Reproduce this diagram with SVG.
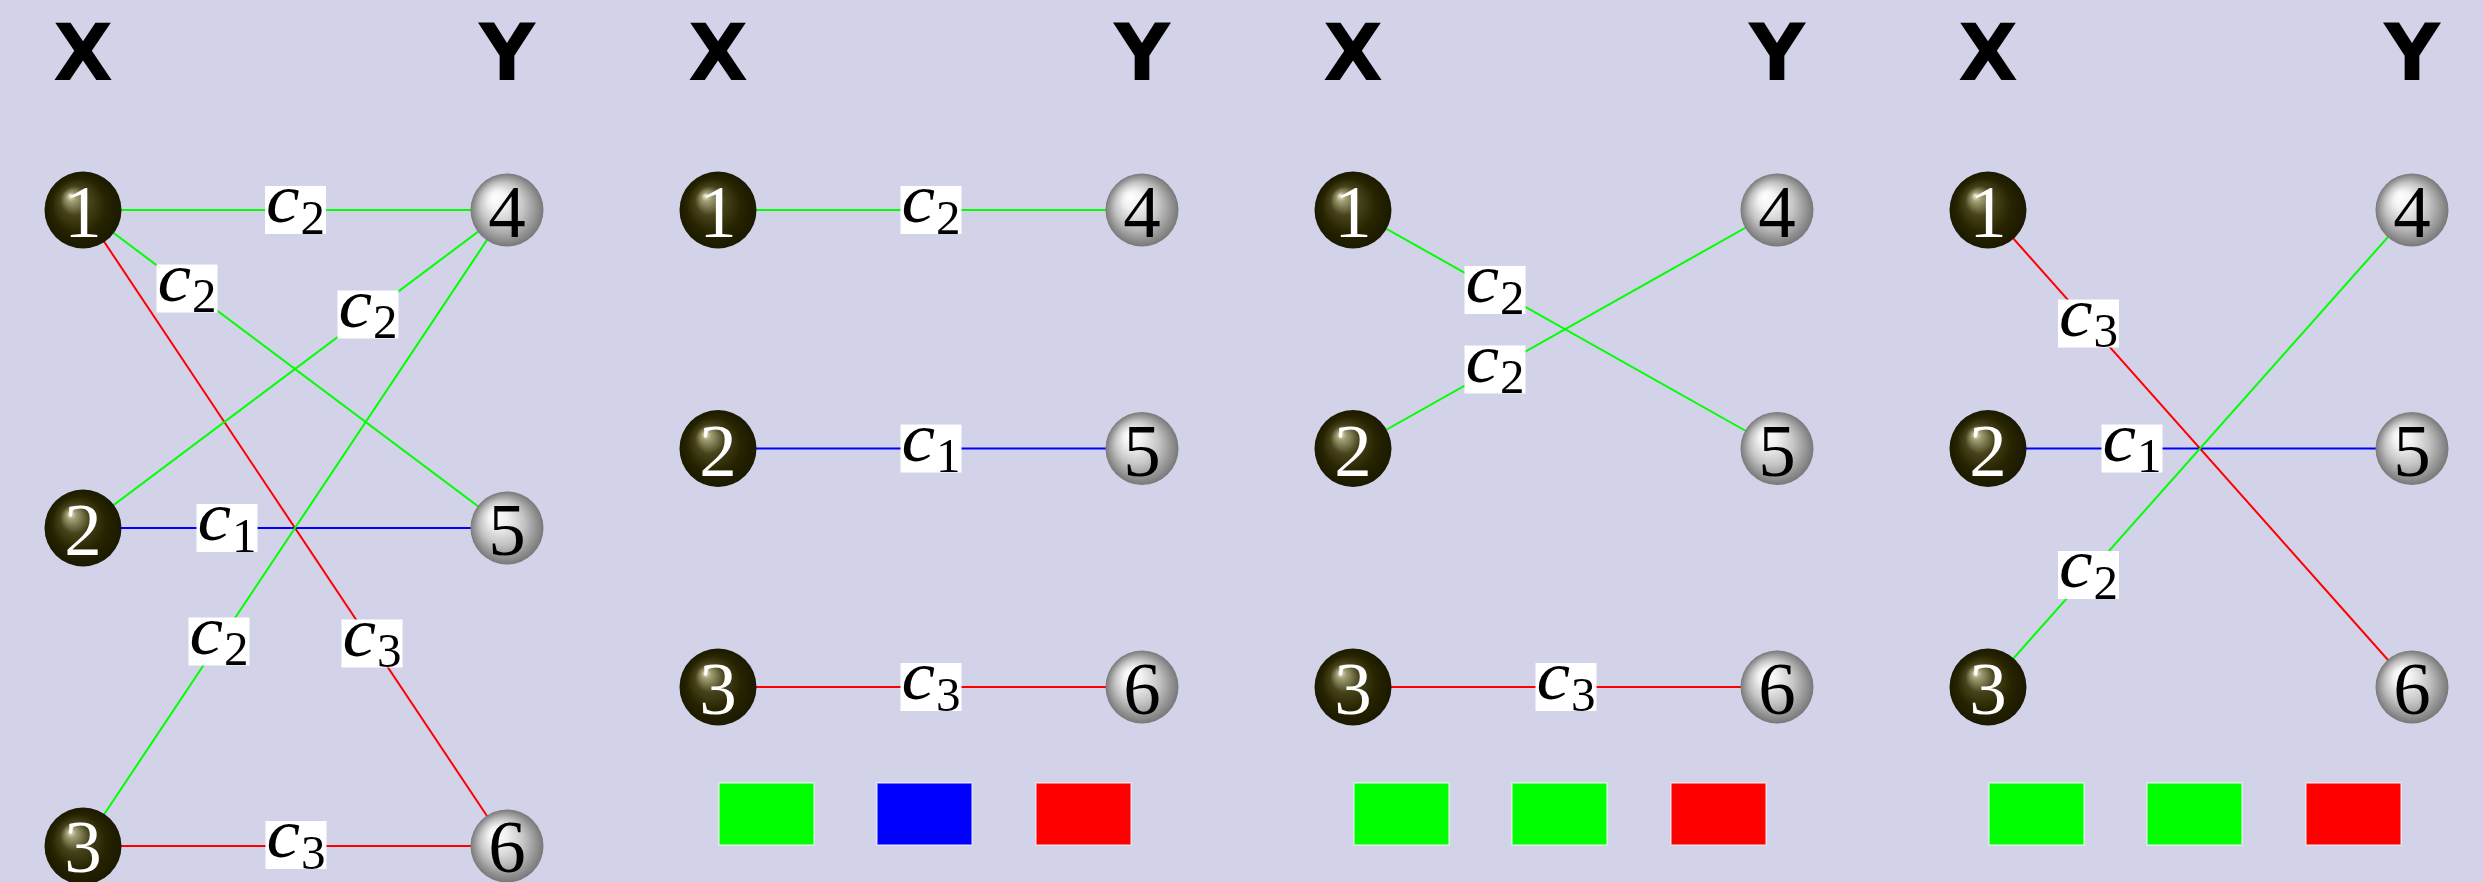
<svg xmlns="http://www.w3.org/2000/svg" width="2483" height="882" viewBox="0 0 2483 882">
  <style>
    .hd { font-family: "DejaVu Sans", sans-serif; font-weight: bold; font-size: 78px; text-anchor: middle; fill: #000; }
    .num { font-family: "Liberation Serif", serif; font-size: 75px; text-anchor: middle; }
    .dark .num { fill: #fff; }
    .lite .num { fill: #000; }
    .dark circle { fill: url(#ballDark); }
    .lite circle { fill: url(#ballLite); }
    .edge { stroke-width: 2; fill: none; }
    .g { stroke: #00ff00; }
    .b { stroke: #0000ff; }
    .r { stroke: #ff0000; }
    .lbl rect { fill: #fff; }
    .c { font-family: "Liberation Serif", serif; font-style: italic; font-size: 70px; fill: #000; }
    .s { font-family: "Liberation Serif", serif; font-size: 49px; fill: #000; }
    .key rect { stroke: #ffffff; stroke-opacity: 0.6; stroke-width: 1.5; }
  </style>
  <defs>
    <radialGradient id="ballDark" cx="0.5" cy="0.5" r="0.5" fx="0.33" fy="0.31">
      <stop offset="0" stop-color="#f2f2da"/>
      <stop offset="0.12" stop-color="#a29e74"/>
      <stop offset="0.38" stop-color="#46431c"/>
      <stop offset="0.7" stop-color="#272400"/>
      <stop offset="1" stop-color="#1b1900"/>
    </radialGradient>
    <radialGradient id="ballLite" cx="0.5" cy="0.5" r="0.5" fx="0.33" fy="0.31">
      <stop offset="0" stop-color="#ffffff"/>
      <stop offset="0.25" stop-color="#f2f2f2"/>
      <stop offset="0.6" stop-color="#c4c4c4"/>
      <stop offset="1" stop-color="#787878"/>
    </radialGradient>
  </defs>

  <rect width="2483" height="882" fill="#d2d2e9"/>

  <!-- column headings -->
  <g id="headings">
    <text class="hd" x="83" y="80">X</text>
    <text class="hd" x="507" y="80">Y</text>
    <text class="hd" x="718" y="80">X</text>
    <text class="hd" x="1142" y="80">Y</text>
    <text class="hd" x="1353" y="80">X</text>
    <text class="hd" x="1777" y="80">Y</text>
    <text class="hd" x="1988" y="80">X</text>
    <text class="hd" x="2412" y="80">Y</text>
  </g>

  <!-- edges with their colour labels -->
  <g id="connectors">
    <!-- panel 1: full graph -->
    <line class="edge g" x1="83" y1="210" x2="507" y2="210"/>
    <line class="edge g" x1="83" y1="210" x2="507" y2="528"/>
    <line class="edge r" x1="83" y1="210" x2="507" y2="846"/>
    <line class="edge g" x1="83" y1="528" x2="507" y2="210"/>
    <line class="edge b" x1="83" y1="528" x2="507" y2="528"/>
    <line class="edge g" x1="83" y1="846" x2="507" y2="210"/>
    <line class="edge r" x1="83" y1="846" x2="507" y2="846"/>
    <!-- panel 2 -->
    <line class="edge g" x1="718" y1="210" x2="1142" y2="210"/>
    <line class="edge b" x1="718" y1="448.5" x2="1142" y2="448.5"/>
    <line class="edge r" x1="718" y1="687" x2="1142" y2="687"/>
    <!-- panel 3 -->
    <line class="edge g" x1="1353" y1="210" x2="1777" y2="448.5"/>
    <line class="edge g" x1="1353" y1="448.5" x2="1777" y2="210"/>
    <line class="edge r" x1="1353" y1="687" x2="1777" y2="687"/>
    <!-- panel 4 -->
    <line class="edge r" x1="1988" y1="210" x2="2412" y2="687"/>
    <line class="edge b" x1="1988" y1="448.5" x2="2412" y2="448.5"/>
    <line class="edge g" x1="1988" y1="687" x2="2412" y2="210"/>

    <!-- each label: white box, italic c, subscript digit -->
    <g id="edge-labels">
      <g class="lbl" transform="translate(295.5,210)"><rect x="-30.5" y="-24" width="61" height="48"/><text class="c" transform="translate(-29.5,12) scale(1.08,1)">c</text><text class="s" x="5" y="23.5">2</text></g>
      <g class="lbl" transform="translate(187,288.5)"><rect x="-30.5" y="-24" width="61" height="48"/><text class="c" transform="translate(-29.5,12) scale(1.08,1)">c</text><text class="s" x="5" y="23.5">2</text></g>
      <g class="lbl" transform="translate(368,314.5)"><rect x="-30.5" y="-24" width="61" height="48"/><text class="c" transform="translate(-29.5,12) scale(1.08,1)">c</text><text class="s" x="5" y="23.5">2</text></g>
      <g class="lbl" transform="translate(227,528)"><rect x="-30.5" y="-24" width="61" height="48"/><text class="c" transform="translate(-29.5,12) scale(1.08,1)">c</text><text class="s" x="5" y="23.5">1</text></g>
      <g class="lbl" transform="translate(219,641.5)"><rect x="-30.5" y="-24" width="61" height="48"/><text class="c" transform="translate(-29.5,12) scale(1.08,1)">c</text><text class="s" x="5" y="23.5">2</text></g>
      <g class="lbl" transform="translate(372,643.5)"><rect x="-30.5" y="-24" width="61" height="48"/><text class="c" transform="translate(-29.5,12) scale(1.08,1)">c</text><text class="s" x="5" y="23.5">3</text></g>
      <g class="lbl" transform="translate(296,845)"><rect x="-30.5" y="-24" width="61" height="48"/><text class="c" transform="translate(-29.5,12) scale(1.08,1)">c</text><text class="s" x="5" y="23.5">3</text></g>

      <g class="lbl" transform="translate(931,210)"><rect x="-30.5" y="-24" width="61" height="48"/><text class="c" transform="translate(-29.5,12) scale(1.08,1)">c</text><text class="s" x="5" y="23.5">2</text></g>
      <g class="lbl" transform="translate(931,448.5)"><rect x="-30.5" y="-24" width="61" height="48"/><text class="c" transform="translate(-29.5,12) scale(1.08,1)">c</text><text class="s" x="5" y="23.5">1</text></g>
      <g class="lbl" transform="translate(931,687)"><rect x="-30.5" y="-24" width="61" height="48"/><text class="c" transform="translate(-29.5,12) scale(1.08,1)">c</text><text class="s" x="5" y="23.5">3</text></g>

      <g class="lbl" transform="translate(1495,290)"><rect x="-30.5" y="-24" width="61" height="48"/><text class="c" transform="translate(-29.5,12) scale(1.08,1)">c</text><text class="s" x="5" y="23.5">2</text></g>
      <g class="lbl" transform="translate(1495,369.5)"><rect x="-30.5" y="-24" width="61" height="48"/><text class="c" transform="translate(-29.5,12) scale(1.08,1)">c</text><text class="s" x="5" y="23.5">2</text></g>
      <g class="lbl" transform="translate(1566,687)"><rect x="-30.5" y="-24" width="61" height="48"/><text class="c" transform="translate(-29.5,12) scale(1.08,1)">c</text><text class="s" x="5" y="23.5">3</text></g>

      <g class="lbl" transform="translate(2088.5,323.5)"><rect x="-30.5" y="-24" width="61" height="48"/><text class="c" transform="translate(-29.5,12) scale(1.08,1)">c</text><text class="s" x="5" y="23.5">3</text></g>
      <g class="lbl" transform="translate(2132,448.5)"><rect x="-30.5" y="-24" width="61" height="48"/><text class="c" transform="translate(-29.5,12) scale(1.08,1)">c</text><text class="s" x="5" y="23.5">1</text></g>
      <g class="lbl" transform="translate(2088.5,575)"><rect x="-30.5" y="-24" width="61" height="48"/><text class="c" transform="translate(-29.5,12) scale(1.08,1)">c</text><text class="s" x="5" y="23.5">2</text></g>
    </g>
  </g>

  <!-- panel 1 nodes -->
  <g id="p1-n1" class="dark"><circle cx="83" cy="210" r="38.5"/><text class="num" x="83" y="237">1</text></g>
  <g id="p1-n2" class="dark"><circle cx="83" cy="528" r="38.5"/><text class="num" x="83" y="555">2</text></g>
  <g id="p1-n3" class="dark"><circle cx="83" cy="846" r="38.5"/><text class="num" x="83" y="872">3</text></g>
  <g id="p1-n4" class="lite"><circle cx="507" cy="210" r="36.5"/><text class="num" x="507" y="237">4</text></g>
  <g id="p1-n5" class="lite"><circle cx="507" cy="528" r="36.5"/><text class="num" x="507" y="555">5</text></g>
  <g id="p1-n6" class="lite"><circle cx="507" cy="846" r="36.5"/><text class="num" x="507" y="872">6</text></g>

  <!-- panel 2 nodes -->
  <g id="p2-n1" class="dark"><circle cx="718" cy="210" r="38.5"/><text class="num" x="718" y="237">1</text></g>
  <g id="p2-n2" class="dark"><circle cx="718" cy="448.5" r="38.5"/><text class="num" x="718" y="475.5">2</text></g>
  <g id="p2-n3" class="dark"><circle cx="718" cy="687" r="38.5"/><text class="num" x="718" y="714">3</text></g>
  <g id="p2-n4" class="lite"><circle cx="1142" cy="210" r="36.5"/><text class="num" x="1142" y="237">4</text></g>
  <g id="p2-n5" class="lite"><circle cx="1142" cy="448.5" r="36.5"/><text class="num" x="1142" y="475.5">5</text></g>
  <g id="p2-n6" class="lite"><circle cx="1142" cy="687" r="36.5"/><text class="num" x="1142" y="714">6</text></g>

  <!-- panel 3 nodes -->
  <g id="p3-n1" class="dark"><circle cx="1353" cy="210" r="38.5"/><text class="num" x="1353" y="237">1</text></g>
  <g id="p3-n2" class="dark"><circle cx="1353" cy="448.5" r="38.5"/><text class="num" x="1353" y="475.5">2</text></g>
  <g id="p3-n3" class="dark"><circle cx="1353" cy="687" r="38.5"/><text class="num" x="1353" y="714">3</text></g>
  <g id="p3-n4" class="lite"><circle cx="1777" cy="210" r="36.5"/><text class="num" x="1777" y="237">4</text></g>
  <g id="p3-n5" class="lite"><circle cx="1777" cy="448.5" r="36.5"/><text class="num" x="1777" y="475.5">5</text></g>
  <g id="p3-n6" class="lite"><circle cx="1777" cy="687" r="36.5"/><text class="num" x="1777" y="714">6</text></g>

  <!-- panel 4 nodes -->
  <g id="p4-n1" class="dark"><circle cx="1988" cy="210" r="38.5"/><text class="num" x="1988" y="237">1</text></g>
  <g id="p4-n2" class="dark"><circle cx="1988" cy="448.5" r="38.5"/><text class="num" x="1988" y="475.5">2</text></g>
  <g id="p4-n3" class="dark"><circle cx="1988" cy="687" r="38.5"/><text class="num" x="1988" y="714">3</text></g>
  <g id="p4-n4" class="lite"><circle cx="2412" cy="210" r="36.5"/><text class="num" x="2412" y="237">4</text></g>
  <g id="p4-n5" class="lite"><circle cx="2412" cy="448.5" r="36.5"/><text class="num" x="2412" y="475.5">5</text></g>
  <g id="p4-n6" class="lite"><circle cx="2412" cy="687" r="36.5"/><text class="num" x="2412" y="714">6</text></g>

  <!-- colour keys under panels 2-4 -->
  <g id="key-p2" class="key">
    <rect x="719" y="783" width="95" height="62" fill="#00ff00"/>
    <rect x="877" y="783" width="95" height="62" fill="#0000ff"/>
    <rect x="1036" y="783" width="95" height="62" fill="#ff0000"/>
  </g>
  <g id="key-p3" class="key">
    <rect x="1354" y="783" width="95" height="62" fill="#00ff00"/>
    <rect x="1512" y="783" width="95" height="62" fill="#00ff00"/>
    <rect x="1671" y="783" width="95" height="62" fill="#ff0000"/>
  </g>
  <g id="key-p4" class="key">
    <rect x="1989" y="783" width="95" height="62" fill="#00ff00"/>
    <rect x="2147" y="783" width="95" height="62" fill="#00ff00"/>
    <rect x="2306" y="783" width="95" height="62" fill="#ff0000"/>
  </g>
</svg>
